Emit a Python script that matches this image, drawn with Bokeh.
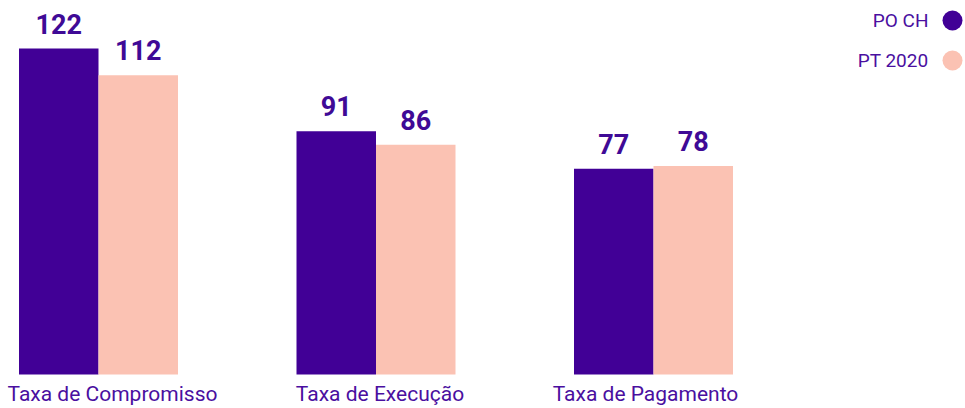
from bokeh.plotting import figure
from bokeh.models import Range1d, ColumnDataSource
from bokeh.core.properties import value
from bokeh.embed import file_html
from bokeh.resources import INLINE

categories = ["Taxa de Compromisso", "Taxa de Execução", "Taxa de Pagamento"]
series_names = ["PO CH", "PT 2020"]
po_ch = [122, 91, 77]
pt_2020 = [112, 86, 78]

DARK = "#410096"
PEACH = "#FBC2B3"
TEXT = "#4A0FA0"

W, H = 965, 408
unit_px = 277.5
x0 = -98 / unit_px
xs = x0 + W / unit_px
y_scale = 2.672
y0 = -34 / y_scale
ye = y0 + H / y_scale

p = figure(width=W, height=H, output_backend="svg", toolbar_location=None,
           x_range=Range1d(x0, xs), y_range=Range1d(y0, ye),
           min_border=0, outline_line_color=None)
p.axis.visible = False
p.grid.visible = False
p.background_fill_color = "white"
p.border_fill_color = "white"

idx = list(range(len(categories)))
bw = 79.5 / unit_px
off = bw / 2

src = ColumnDataSource(dict(
    x_dark=[i - off for i in idx], x_peach=[i + off for i in idx],
    po=po_ch, pt=pt_2020,
    po_lbl=[str(v) for v in po_ch], pt_lbl=[str(v) for v in pt_2020]))

p.vbar(x="x_dark", top="po", bottom=0, width=bw, fill_color=DARK, line_color=None, source=src)
p.vbar(x="x_peach", top="pt", bottom=0, width=bw, fill_color=PEACH, line_color=None, source=src)

for xcol, ycol, lcol in [("x_dark", "po", "po_lbl"), ("x_peach", "pt", "pt_lbl")]:
    p.text(x=xcol, y=ycol, text=lcol, source=src, text_align="center",
           text_baseline="alphabetic", y_offset=-25,
           text_font=value("Roboto"), text_font_style="bold",
           text_font_size="27px", text_color="#3F0A96")

# category labels (small horizontal nudges to match original placement)
cat_src = ColumnDataSource(dict(xc=idx, cat=categories, zero=[0] * len(idx),
                                dx=[14, 4, -8]))
p.text(x="xc", y="zero", text="cat", source=cat_src, text_align="center",
       text_baseline="alphabetic", y_offset=19, x_offset="dx",
       text_font=value("Roboto"), text_font_size="21px", text_color=TEXT)

# legend (label right-aligned, marker to the right)
leg_x = 952 / unit_px + x0
leg_ys = [ye - 20 / y_scale, ye - 60 / y_scale]
leg_src = ColumnDataSource(dict(x=[leg_x] * 2, y=leg_ys, name=series_names,
                                color=[DARK, PEACH]))
p.scatter(x="x", y="y", size=20, fill_color="color", line_color=None, source=leg_src)
p.text(x="x", y="y", text="name", source=leg_src, text_align="right",
       text_baseline="middle", x_offset=-24,
       text_font=value("Roboto"), text_font_size="19px", text_color=TEXT)

open("out.html", "w").write(file_html(p, INLINE))
